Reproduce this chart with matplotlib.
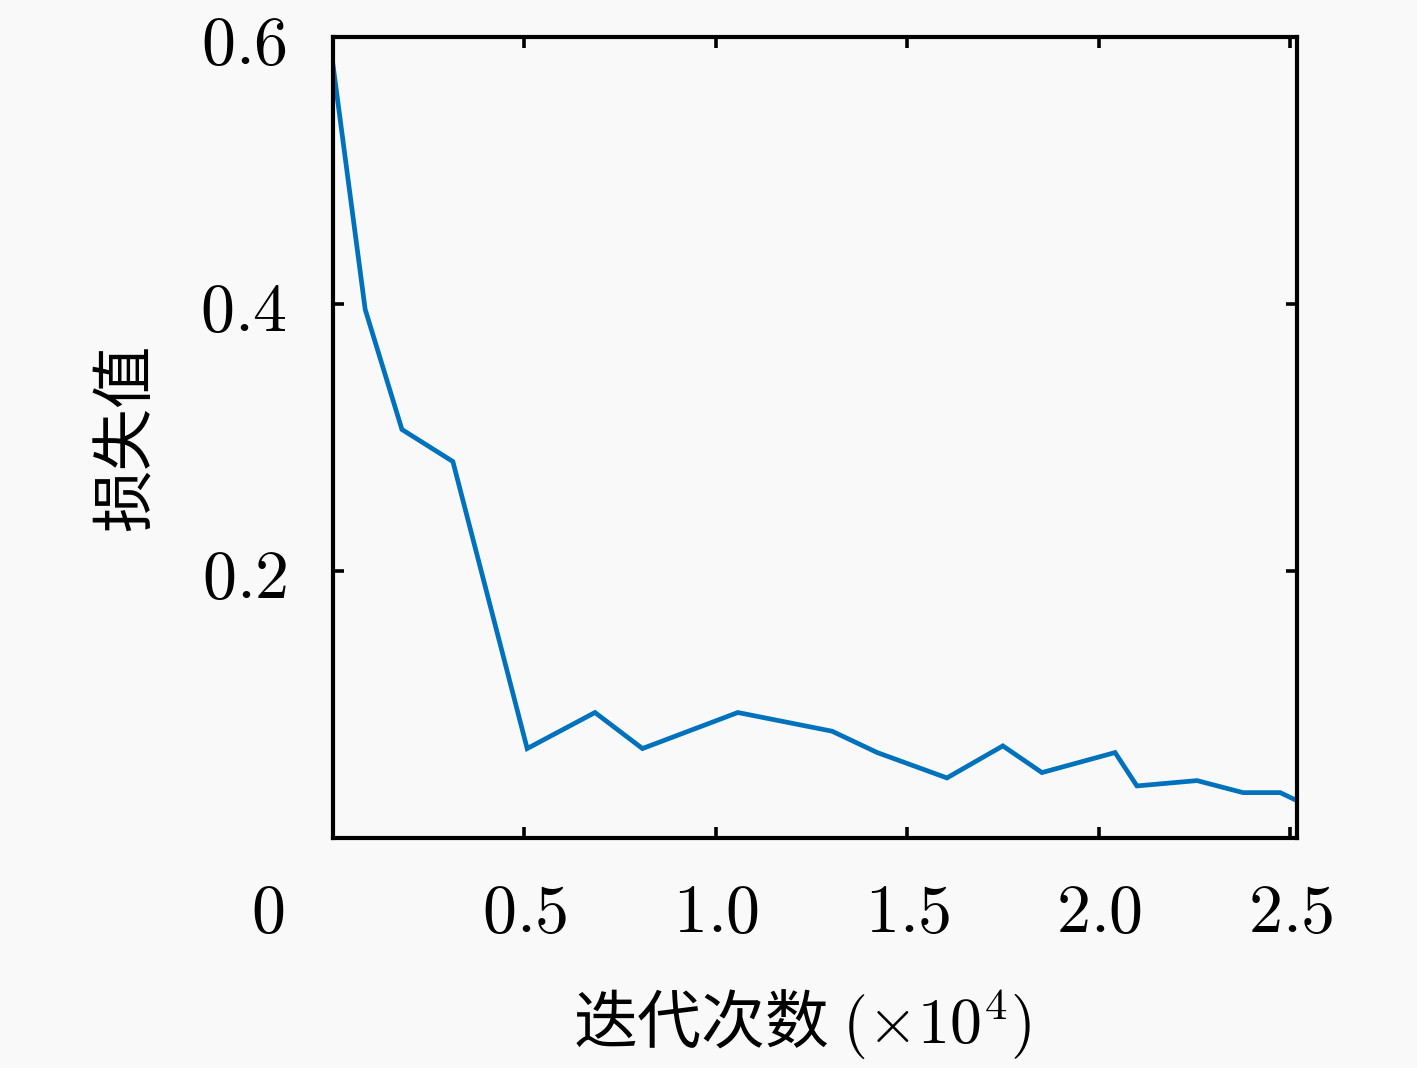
import numpy as np
import matplotlib
matplotlib.use("Agg")
import matplotlib.pyplot as plt
from matplotlib.transforms import ScaledTranslation

# loss curve (iterations in units of 1e4)
iters = [0.0, 0.084, 0.180, 0.313, 0.507, 0.684, 0.808, 1.057, 1.303, 1.421,
         1.603, 1.749, 1.851, 2.042, 2.099, 2.256, 2.376, 2.473, 2.517]
loss = [0.579, 0.396, 0.306, 0.282, 0.067, 0.094, 0.067, 0.094, 0.080, 0.064,
        0.045, 0.069, 0.049, 0.064, 0.039, 0.043, 0.034, 0.034, 0.028]

xticks = [0, 0.5, 1.0, 1.5, 2.0, 2.5]
xticklabels = ["0", "0.5", "1.0", "1.5", "2.0", "2.5"]
yticks = [0.2, 0.4, 0.6]
yticklabels = ["0.2", "0.4", "0.6"]

plt.rcParams['mathtext.fontset'] = 'cm'
plt.rcParams['font.family'] = ['Noto Sans CJK SC', 'DejaVu Sans']

bg = "#f9f9f9"
fig = plt.figure(figsize=(14.17, 10.68), dpi=100, facecolor=bg)
ax = fig.add_axes([333/1417, 1-838/1068, (1297-333)/1417, (838-37)/1068])
ax.set_facecolor(bg)

ax.plot(iters, loss, color="#0072BD", lw=3.4, solid_joinstyle="miter")

ax.set_xlim(0, 2.517)
ax.set_ylim(0, 0.6)
ax.set_xticks(xticks)
ax.set_xticklabels([r"$%s$" % t for t in xticklabels], fontsize=49)
ax.set_yticks(yticks)
ax.set_yticklabels([r"$%s$" % t for t in yticklabels], fontsize=49)

ax.tick_params(axis='both', direction='in', length=8, width=2.6,
               top=True, right=True)
ax.tick_params(axis='x', pad=29)
ax.tick_params(axis='y', pad=33)
for s in ax.spines.values():
    s.set_linewidth(3.0)

# the "0" label sits off to the left in the reference
lab0 = ax.get_xticklabels()[0]
lab0.set_transform(lab0.get_transform() + ScaledTranslation(-0.65, 0, fig.dpi_scale_trans))

ax.set_xlabel(r"迭代次数 $(\times10^4)$", fontsize=46)
ax.set_ylabel("损失值", fontsize=45)
ax.xaxis.set_label_coords(0.4865, -0.233)
ax.xaxis.label.set_va('center')
ax.yaxis.set_label_coords(-0.214, 0.5)
ax.yaxis.label.set_va('center')

plt.savefig("out.png", dpi=100, facecolor=bg)
